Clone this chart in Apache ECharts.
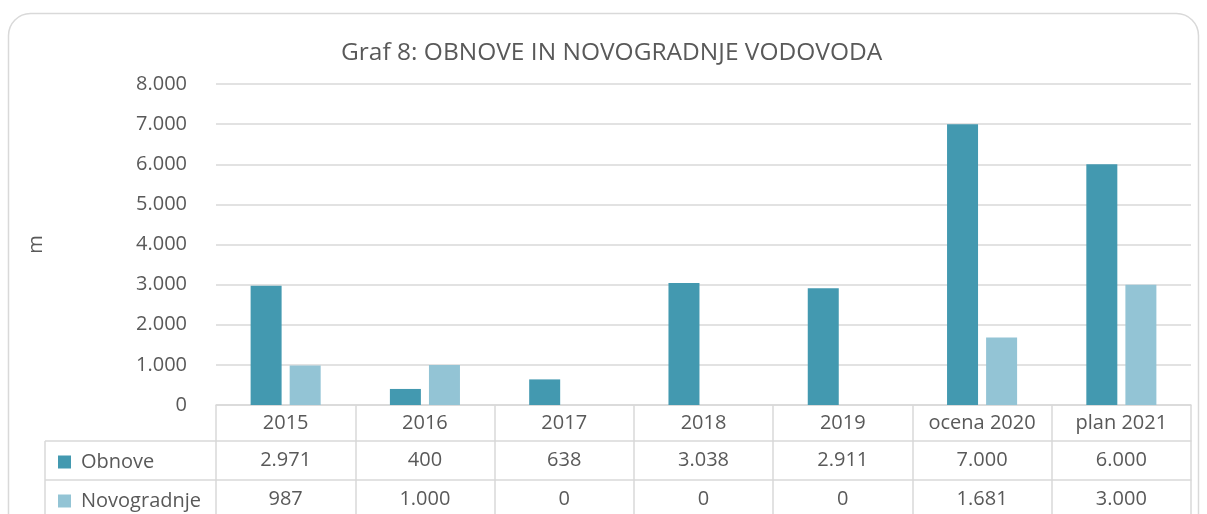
<!DOCTYPE html>
<html>
<head>
<meta charset="utf-8">
<script src="https://cdn.jsdelivr.net/npm/echarts@6/dist/echarts.min.js"></script>
<style>
  html, body { margin: 0; padding: 0; background: #fff; }
  #chart { width: 1207px; height: 514px; }
</style>
</head>
<body>
<div id="chart"></div>
<script>
  'use strict';

  var categories = ['2015', '2016', '2017', '2018', '2019', 'ocena 2020', 'plan 2021'];
  var obnove = [2971, 400, 638, 3038, 2911, 7000, 6000];
  var novogradnje = [987, 1000, 0, 0, 0, 1681, 3000];
  var seriesNames = ['Obnove', 'Novogradnje'];

  // layout
  var GRID_LEFT = 216, GRID_RIGHT = 16, GRID_TOP = 84, GRID_BOTTOM = 109;
  var ROW1 = 36, ROW2 = 75;       // offsets of table row lines below x axis
  var TABLE_LEFT = 45;
  var H = 514;
  var zeroY = H - GRID_BOTTOM;

  var textColor = '#595959';
  var lineColor = '#d9d9d9';
  var font = 'Open Sans';
  var fs = 20;

  function fmt(v) {
    return String(v).replace(/\B(?=(\d{3})+(?!\d))/g, '.');
  }

  function legendRow(name, top) {
    return {
      orient: 'vertical', left: 53, top: top,
      icon: 'rect', itemWidth: 13, itemHeight: 13,
      data: [name],
      textStyle: { fontFamily: font, fontSize: fs, color: textColor, lineHeight: 20, padding: [0, 0, 0, 5] }
    };
  }

  var chart = echarts.init(document.getElementById('chart'));
  chart.setOption({
    animation: false,
    color: ['#4399b0', '#93c4d5'],
    textStyle: { fontFamily: font },
    title: {
      text: 'Graf 8: OBNOVE IN NOVOGRADNJE VODOVODA',
      left: 336, top: 36,
      textStyle: { fontFamily: font, fontSize: 24.5, fontWeight: 'normal', color: textColor }
    },
    legend: [
      legendRow(seriesNames[0], zeroY + ROW1 + 6),
      legendRow(seriesNames[1], zeroY + ROW2 + 6)
    ],
    grid: { left: GRID_LEFT, right: GRID_RIGHT, top: GRID_TOP, bottom: GRID_BOTTOM },
    xAxis: [
      {
        type: 'category', data: categories, position: 'bottom',
        axisLine: { lineStyle: { color: lineColor, width: 1.5 } },
        axisTick: { show: true, interval: 0, alignWithLabel: false, length: H - zeroY + 2,
                    lineStyle: { color: lineColor, width: 1.5 } },
        axisLabel: { interval: 0, color: textColor, fontSize: fs, margin: 8, fontFamily: font }
      },
      {
        type: 'category', data: categories, position: 'bottom', offset: ROW1,
        axisLine: { lineStyle: { color: lineColor, width: 1.5 } },
        axisTick: { show: false },
        axisLabel: { interval: 0, color: textColor, fontSize: fs, margin: 9, fontFamily: font,
          formatter: function(v, i) { return fmt(obnove[i]); } }
      },
      {
        type: 'category', data: categories, position: 'bottom', offset: ROW2,
        axisLine: { lineStyle: { color: lineColor, width: 1.5 } },
        axisTick: { show: false },
        axisLabel: { interval: 0, color: textColor, fontSize: fs, margin: 9, fontFamily: font,
          formatter: function(v, i) { return fmt(novogradnje[i]); } }
      }
    ],
    yAxis: {
      type: 'value', min: 0, max: 8000, interval: 1000,
      name: 'm', nameLocation: 'middle', nameRotate: 90, nameGap: 170,
      nameTextStyle: { color: textColor, fontSize: fs, fontFamily: font },
      axisLine: { show: false }, axisTick: { show: false },
      axisLabel: { color: textColor, fontSize: fs, margin: 29, fontFamily: font,
        formatter: function(v) { return fmt(v); } },
      splitLine: { lineStyle: { color: lineColor, width: 1.5 } }
    },
    series: [
      { name: seriesNames[0], type: 'bar', data: obnove, barWidth: 31, barGap: '26%' },
      { name: seriesNames[1], type: 'bar', data: novogradnje, barWidth: 31, barGap: '26%' }
    ],
    graphic: [
      { type: 'rect', silent: true, z: -1,
        shape: { x: 8.5, y: 13.5, width: 1190, height: 600, r: 22 },
        style: { fill: 'none', stroke: lineColor, lineWidth: 1.5 } },
      { type: 'line', silent: true,
        shape: { x1: TABLE_LEFT, y1: zeroY + ROW1, x2: GRID_LEFT, y2: zeroY + ROW1 },
        style: { stroke: lineColor, lineWidth: 1.5 } },
      { type: 'line', silent: true,
        shape: { x1: TABLE_LEFT, y1: zeroY + ROW2, x2: GRID_LEFT, y2: zeroY + ROW2 },
        style: { stroke: lineColor, lineWidth: 1.5 } },
      { type: 'line', silent: true,
        shape: { x1: TABLE_LEFT, y1: zeroY + ROW1, x2: TABLE_LEFT, y2: H + 2 },
        style: { stroke: lineColor, lineWidth: 1.5 } }
    ]
  });
</script>
</body>
</html>
